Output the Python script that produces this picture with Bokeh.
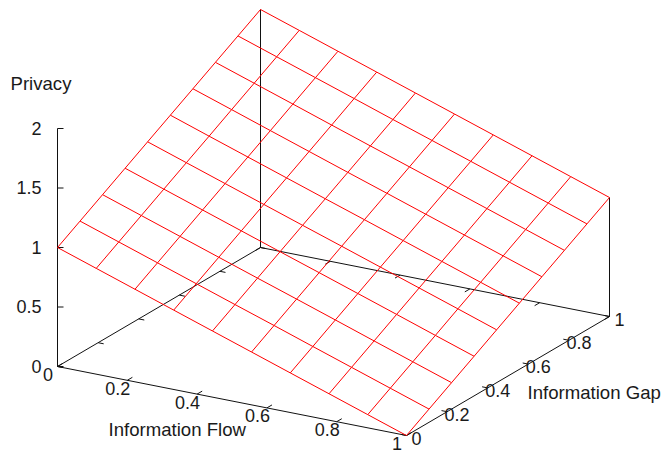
from bokeh.plotting import figure
from bokeh.core.properties import value
from bokeh.embed import file_html
from bokeh.resources import INLINE

# ---------------- data ----------------
FLOW_GRID = [0.0, 0.111, 0.222, 0.333, 0.444, 0.556, 0.667, 0.778, 0.889, 1.0]
GAP_GRID = [0.0, 0.111, 0.222, 0.333, 0.444, 0.556, 0.667, 0.778, 0.889, 1.0]
# PRIVACY[i][j] : Information Flow = FLOW_GRID[i], Information Gap = GAP_GRID[j]
PRIVACY = [
    [1.000, 1.111, 1.222, 1.333, 1.444, 1.556, 1.667, 1.778, 1.889, 2.000],
    [0.889, 1.000, 1.111, 1.222, 1.333, 1.444, 1.556, 1.667, 1.778, 1.889],
    [0.778, 0.889, 1.000, 1.111, 1.222, 1.333, 1.444, 1.556, 1.667, 1.778],
    [0.667, 0.778, 0.889, 1.000, 1.111, 1.222, 1.333, 1.444, 1.556, 1.667],
    [0.556, 0.667, 0.778, 0.889, 1.000, 1.111, 1.222, 1.333, 1.444, 1.556],
    [0.444, 0.556, 0.667, 0.778, 0.889, 1.000, 1.111, 1.222, 1.333, 1.444],
    [0.333, 0.444, 0.556, 0.667, 0.778, 0.889, 1.000, 1.111, 1.222, 1.333],
    [0.222, 0.333, 0.444, 0.556, 0.667, 0.778, 0.889, 1.000, 1.111, 1.222],
    [0.111, 0.222, 0.333, 0.444, 0.556, 0.667, 0.778, 0.889, 1.000, 1.111],
    [0.000, 0.111, 0.222, 0.333, 0.444, 0.556, 0.667, 0.778, 0.889, 1.000],
]
FLOW_TICKS = [0, 0.2, 0.4, 0.6, 0.8, 1]
FLOW_TICK_LABELS = ["0", "0.2", "0.4", "0.6", "0.8", "1"]
GAP_TICKS = [0, 0.2, 0.4, 0.6, 0.8, 1]
GAP_TICK_LABELS = ["0", "0.2", "0.4", "0.6", "0.8", "1"]
PRIV_TICKS = [0, 0.5, 1, 1.5, 2]
PRIV_TICK_LABELS = ["0", "0.5", "1", "1.5", "2"]
X_TITLE = "Information Flow"
Y_TITLE = "Information Gap"
Z_TITLE = "Privacy"

# ---------------- projection (screen pixels, y up) ----------------
W, H = 666, 452
OX, OY = 57.0, H - 366.0
EXX, EXY = 349.0, -69.0
EYX, EYY = 203.0, 119.0
EZ = 119.0
XMIN, XMAX, YMIN, YMAX, ZMIN, ZMAX = 0.0, 1.0, 0.0, 1.0, 0.0, 2.0
DY = 7.0   # text baseline correction


def proj(x, y, z):
    return (OX + x * EXX + y * EYX, OY + x * EXY + y * EYY + z * EZ)


FONT = value("Liberation Sans")
TXT = "#1a1a1a"
AX = "#111111"
RED = "#ff0000"

p = figure(width=W, height=H, x_range=(0, W), y_range=(0, H),
           output_backend="svg", toolbar_location=None, min_border=0,
           x_axis_type=None, y_axis_type=None)
p.grid.visible = False
p.outline_line_color = None
p.background_fill_color = "white"
p.border_fill_color = "white"

# ---- base box edges and verticals ----
segs_x, segs_y = [], []


def seg(a, b):
    pa, pb = proj(*a), proj(*b)
    segs_x.append([pa[0], pb[0]])
    segs_y.append([pa[1], pb[1]])


seg((XMIN, YMIN, ZMIN), (XMAX, YMIN, ZMIN))
seg((XMIN, YMIN, ZMIN), (XMIN, YMAX, ZMIN))
seg((XMIN, YMAX, ZMIN), (XMAX, YMAX, ZMIN))
seg((XMAX, YMIN, ZMIN), (XMAX, YMAX, ZMIN))
seg((XMIN, YMIN, ZMIN), (XMIN, YMIN, ZMAX))
seg((XMIN, YMAX, ZMIN), (XMIN, YMAX, PRIVACY[0][-1]))
seg((XMAX, YMAX, ZMIN), (XMAX, YMAX, PRIVACY[-1][-1]))

TX = 0.016
TY = 0.025
for t in FLOW_TICKS:
    seg((t, YMIN, ZMIN), (t, YMIN + TY, ZMIN))
    seg((t, YMAX, ZMIN), (t, YMAX - TY, ZMIN))
for t in GAP_TICKS:
    seg((XMAX, t, ZMIN), (XMAX - TX, t, ZMIN))
    seg((XMIN, t, ZMIN), (XMIN + TX, t, ZMIN))
for t in PRIV_TICKS:
    a = proj(XMIN, YMIN, t)
    segs_x.append([a[0], a[0] + 6])
    segs_y.append([a[1], a[1]])

p.multi_line(xs=segs_x, ys=segs_y, line_color=AX, line_width=1)

# ---- surface mesh ----
mx, my = [], []
for i, xv in enumerate(FLOW_GRID):
    pts = [proj(xv, yv, PRIVACY[i][j]) for j, yv in enumerate(GAP_GRID)]
    mx.append([q[0] for q in pts])
    my.append([q[1] for q in pts])
for j, yv in enumerate(GAP_GRID):
    pts = [proj(xv, yv, PRIVACY[i][j]) for i, xv in enumerate(FLOW_GRID)]
    mx.append([q[0] for q in pts])
    my.append([q[1] for q in pts])
p.multi_line(xs=mx, ys=my, line_color=RED, line_width=1)

# ---- tick labels (alphabetic baseline) ----
FS = value("18px")
MIN_BASE = 9.5   # keep the lowest labels fully inside the canvas
zx, zy = [], []
for t in PRIV_TICKS:
    a = proj(XMIN, YMIN, t)
    zx.append(a[0] - 16)
    zy.append(a[1] - 6.5 + DY)
p.text(x=zx, y=zy, text=PRIV_TICK_LABELS, text_font=FONT, text_font_size=FS,
       text_color=TXT, text_align="right", text_baseline="alphabetic")

xx, xy = [], []
for t in FLOW_TICKS:
    a = proj(t, YMIN, ZMIN)
    xx.append(a[0] - 9.5)
    xy.append(max(a[1] - 15 + DY, MIN_BASE))
p.text(x=xx, y=xy, text=FLOW_TICK_LABELS, text_font=FONT, text_font_size=FS,
       text_color=TXT, text_align="center", text_baseline="alphabetic")

yx, yy = [], []
for t in GAP_TICKS:
    a = proj(XMAX, t, ZMIN)
    yx.append(a[0] + 10)
    yy.append(max(a[1] - 9.5 + DY, MIN_BASE))
p.text(x=yx, y=yy, text=GAP_TICK_LABELS, text_font=FONT, text_font_size=FS,
       text_color=TXT, text_align="center", text_baseline="alphabetic")

# ---- axis titles ----
TFS = value("18.6px")
p.text(x=[10], y=[H - 90 + DY], text=[Z_TITLE], text_font=FONT, text_font_size=TFS,
       text_color=TXT, text_align="left", text_baseline="alphabetic")
p.text(x=[108], y=[H - 436 + DY], text=[X_TITLE], text_font=FONT, text_font_size=TFS,
       text_color=TXT, text_align="left", text_baseline="alphabetic")
p.text(x=[527], y=[H - 399 + DY], text=[Y_TITLE], text_font=FONT, text_font_size=TFS,
       text_color=TXT, text_align="left", text_baseline="alphabetic")

open("out.html", "w").write(file_html(p, INLINE))
